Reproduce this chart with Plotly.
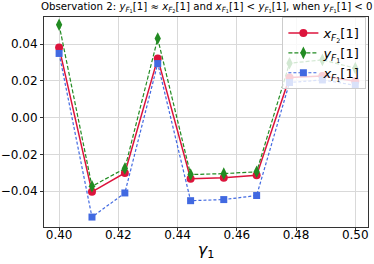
import numpy as np
import plotly.graph_objects as go

gamma1 = [0.4, 0.4111, 0.4222, 0.4333, 0.4444, 0.4556, 0.4667, 0.4778, 0.4889, 0.5]
x_F2 = [0.0381, -0.0403, -0.0300, 0.0322, -0.0332, -0.0327, -0.0313, 0.0218, 0.0227, 0.0198]
y_F1 = [0.0505, -0.0373, -0.0276, 0.0430, -0.0309, -0.0304, -0.0294, 0.0296, 0.0314, 0.0269]
x_F1 = [0.0349, -0.0540, -0.0409, 0.0294, -0.0451, -0.0445, -0.0423, 0.0191, 0.0205, 0.0176]

y_ticks = [-0.04, -0.02, 0.0, 0.02, 0.04]
x_ticks = [0.40, 0.42, 0.44, 0.46, 0.48, 0.50]

FONT = "DejaVu Sans"
fig = go.Figure()
fig.add_trace(go.Scatter(x=gamma1, y=x_F2, mode="lines+markers",
    name="<i>x</i><sub><i>F</i><sub>2</sub></sub>[1]",
    line=dict(color="#DC143C", width=1.5),
    marker=dict(symbol="circle", size=8, color="#DC143C")))
fig.add_trace(go.Scatter(x=gamma1, y=y_F1, mode="lines+markers",
    name="<i>y</i><sub><i>F</i><sub>1</sub></sub>[1]",
    line=dict(color="#228B22", width=1.2, dash="4px,2px"),
    marker=dict(symbol="diamond-tall", size=9, color="#228B22")))
fig.add_trace(go.Scatter(x=gamma1, y=x_F1, mode="lines+markers",
    name="<i>x</i><sub><i>F</i><sub>1</sub></sub>[1]",
    line=dict(color="#4169E1", width=1.2, dash="3px,2px"),
    marker=dict(symbol="square", size=7, color="#4169E1")))

fig.update_layout(
    width=374, height=264, autosize=False,
    margin=dict(l=44, r=6, t=17, b=37, autoexpand=False),
    paper_bgcolor="white", plot_bgcolor="white",
    font=dict(family=FONT, size=12, color="black"),
    title=dict(
        text="Observation 2: <i>y</i><sub><i>F</i><sub>1</sub></sub>[1] ≈ <i>x</i><sub><i>F</i><sub>2</sub></sub>[1] and <i>x</i><sub><i>F</i><sub>1</sub></sub>[1] &lt; <i>y</i><sub><i>F</i><sub>1</sub></sub>[1], when <i>y</i><sub><i>F</i><sub>1</sub></sub>[1] &lt; 0",
        x=0.553, xanchor="center", y=0.99, yanchor="top",
        font=dict(family=FONT, size=10.2)),
    legend=dict(x=0.995, y=1.0, xanchor="right", yanchor="top",
        bgcolor="rgba(255,255,255,0.8)", bordercolor="#cccccc", borderwidth=1,
        font=dict(family=FONT, size=13), tracegroupgap=0, itemwidth=30),
    showlegend=True,
)
fig.update_xaxes(range=[0.3949, 0.5043], tickvals=x_ticks,
    ticktext=[f"{v:.2f}" for v in x_ticks],
    showgrid=True, gridcolor="#d9d9d9", gridwidth=1,
    showline=True, linecolor="#333333", linewidth=1, mirror=True,
    ticks="outside", ticklen=3, tickcolor="#333333", ticklabelstandoff=-6,
    tickfont=dict(family=FONT, size=12), automargin=False,
    title=dict(text="<i>γ</i><sub>1</sub>", font=dict(family=FONT, size=16), standoff=2),
    zeroline=False)
fig.update_yaxes(range=[-0.0594, 0.0547], tickvals=y_ticks,
    ticktext=["−0.04", "−0.02", "0.00", "0.02", "0.04"],
    showgrid=True, gridcolor="#d9d9d9", gridwidth=1,
    showline=True, linecolor="#333333", linewidth=1, mirror=True,
    ticks="outside", ticklen=3, tickcolor="#333333",
    tickfont=dict(family=FONT, size=12), automargin=False,
    zeroline=False)

fig.write_html("out.html", config={"displayModeBar": False},
               post_script="document.body.style.margin='0';document.body.style.padding='0';")
